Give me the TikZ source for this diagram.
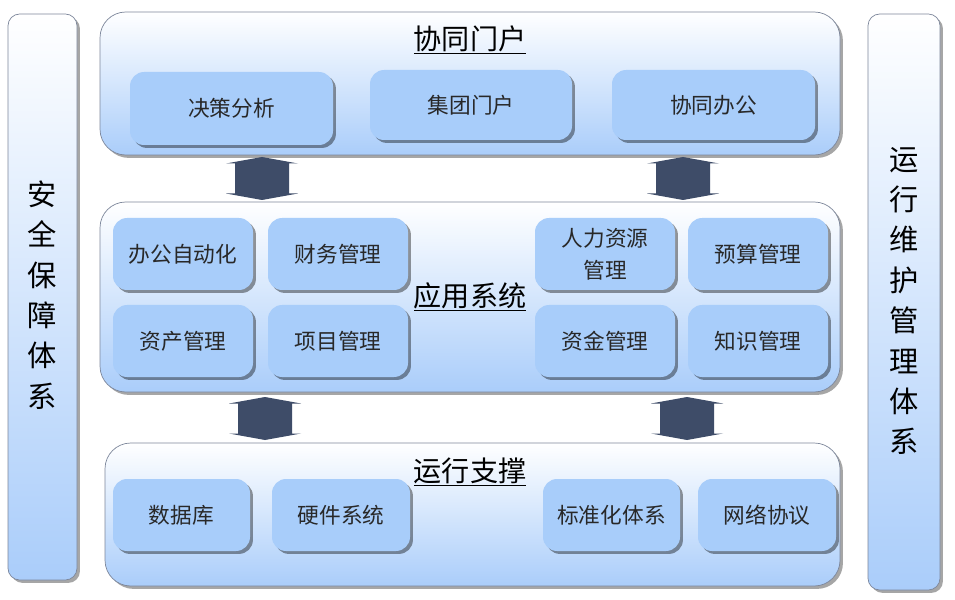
\documentclass[tikz,border=0pt]{standalone}
\usepackage{fontspec}
\setmainfont{Noto Sans CJK SC}
\usetikzlibrary{shadows,fit}
\definecolor{boxblue}{RGB}{168,205,250}
\definecolor{panelbot}{RGB}{170,205,250}
\definecolor{arrowc}{RGB}{62,76,104}
\definecolor{edgec}{RGB}{125,135,155}
\definecolor{txt}{RGB}{40,40,40}
\begin{document}
\begin{tikzpicture}[x=0.03cm,y=-0.03cm,
  panel/.style={draw=edgec, line width=0.6pt, rounded corners=22pt, inner sep=0pt,
    top color=white, bottom color=panelbot,
    drop shadow={shadow xshift=2.5pt, shadow yshift=-2.5pt, fill=black, opacity=0.35}},
  sidebar/.style={draw=edgec, line width=0.6pt, rounded corners=10pt, inner sep=0pt,
    top color=white, bottom color=panelbot,
    drop shadow={shadow xshift=2.5pt, shadow yshift=-2.5pt, fill=black, opacity=0.35}},
  ibox/.style={fill=boxblue, rounded corners=12pt, inner sep=0pt, text=txt,
    font=\fontsize{18.5}{22}\selectfont, align=center,
    drop shadow={shadow xshift=2.5pt, shadow yshift=-2.5pt, fill=black, opacity=0.4}},
  ptitle/.style={text=black, font=\fontsize{24}{28}\selectfont, inner sep=0pt},
  sidetext/.style={text=black, font=\fontsize{25}{34.5}\selectfont, align=center, inner sep=0pt},
  dbl/.pic={\fill[arrowc] (0,-21.5) -- (36,-15) -- (27,-15) -- (27,15) -- (36,15) -- (0,21.5)
      -- (-36,15) -- (-27,15) -- (-27,-15) -- (-36,-15) -- cycle;}
]
\useasboundingbox[fill=white] (0,0) rectangle (955,600);

% side bars
\node[sidebar, fit={(8,14) (77,580)}] (left) {};
\node[sidetext] (lefttext) at (42,295) {安\\全\\保\\障\\体\\系};
\node[sidebar, fit={(868,14) (940,590)}] (right) {};
\node[sidetext] (righttext) at (904,301) {运\\行\\维\\护\\管\\理\\体\\系};

% top panel
\node[panel, fit={(100,12) (840,155)}] (top) {};
\node[ptitle] (toptitle) at (470,40) {\underline{协同门户}};
\node[ibox, fit={(130,72) (333,145)}] (jc) {};
\node[text=txt, font=\fontsize{18.5}{22}\selectfont] at (jc.center) {决策分析};
\node[ibox, fit={(370,70) (572,140)}] (jt) {};
\node[text=txt, font=\fontsize{18.5}{22}\selectfont] at (jt.center) {集团门户};
\node[ibox, fit={(612,70) (815,140)}] (xt) {};
\node[text=txt, font=\fontsize{18.5}{22}\selectfont] at (xt.center) {协同办公};

% arrows
\pic at (262,178.5) {dbl};
\pic at (683,178.5) {dbl};
\pic at (265,418.5) {dbl};
\pic at (687,418.5) {dbl};

% middle panel
\node[panel, fit={(100,202) (840,392)}] (mid) {};
\node[ptitle] (midtitle) at (470,297) {\underline{应用系统}};
\node[ibox, fit={(113,218) (253,290)}] (oa) {};
\node[text=txt, font=\fontsize{18.5}{22}\selectfont] at (oa.center) {办公自动化};
\node[ibox, fit={(268,218) (408,290)}] (cw) {};
\node[text=txt, font=\fontsize{18.5}{22}\selectfont] at (cw.center) {财务管理};
\node[ibox, fit={(113,305) (253,377)}] (zc) {};
\node[text=txt, font=\fontsize{18.5}{22}\selectfont] at (zc.center) {资产管理};
\node[ibox, fit={(268,305) (408,377)}] (xm) {};
\node[text=txt, font=\fontsize{18.5}{22}\selectfont] at (xm.center) {项目管理};
\node[ibox, fit={(535,218) (675,290)}] (rl) {};
\node[text=txt, font=\fontsize{18.5}{27}\selectfont, align=center] at (rl.center) {人力资源\\管理};
\node[ibox, fit={(688,218) (828,290)}] (ys) {};
\node[text=txt, font=\fontsize{18.5}{22}\selectfont] at (ys.center) {预算管理};
\node[ibox, fit={(535,305) (675,377)}] (zj) {};
\node[text=txt, font=\fontsize{18.5}{22}\selectfont] at (zj.center) {资金管理};
\node[ibox, fit={(688,305) (828,377)}] (zs) {};
\node[text=txt, font=\fontsize{18.5}{22}\selectfont] at (zs.center) {知识管理};

% bottom panel
\node[panel, fit={(105,443) (840,586)}] (bot) {};
\node[ptitle] (bottitle) at (470,472) {\underline{运行支撑}};
\node[ibox, fit={(113,479) (250,551)}] (sj) {};
\node[text=txt, font=\fontsize{18.5}{22}\selectfont] at (sj.center) {数据库};
\node[ibox, fit={(272,479) (410,551)}] (yj) {};
\node[text=txt, font=\fontsize{18.5}{22}\selectfont] at (yj.center) {硬件系统};
\node[ibox, fit={(543,479) (680,551)}] (bz) {};
\node[text=txt, font=\fontsize{18.5}{22}\selectfont] at (bz.center) {标准化体系};
\node[ibox, fit={(698,479) (836,551)}] (wl) {};
\node[text=txt, font=\fontsize{18.5}{22}\selectfont] at (wl.center) {网络协议};
\end{tikzpicture}
\end{document}
